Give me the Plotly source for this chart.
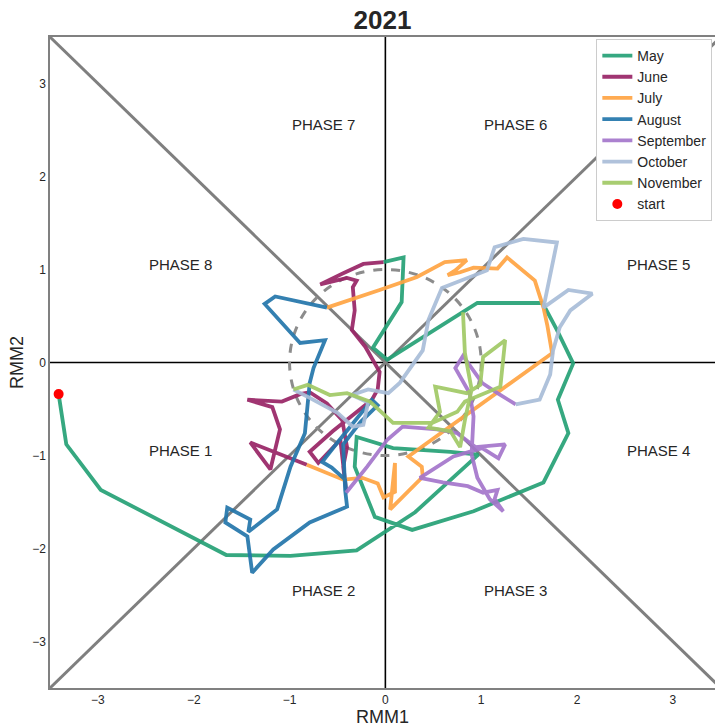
import plotly.graph_objects as go

# Daily RMM index pairs (RMM1, RMM2), one list per month of 2021
may_rmm1 = [-3.41, -3.33, -2.97, -1.66, -0.99, -0.30, 0.31, 0.97, 0.68, 0.08, -0.30, -0.32,
            -0.11, 0.28, 0.92, 1.65, 1.91, 1.80, 1.96, 1.79, 1.64, 0.96, 0.02, -0.13, 0.17,
            0.19, -0.02]
may_rmm2 = [-0.34, -0.88, -1.37, -2.07, -2.08, -2.02, -1.61, -0.99, -0.96, -0.92, -0.80, -1.12,
            -1.66, -1.80, -1.60, -1.29, -0.76, -0.40, -0.01, 0.35, 0.64, 0.64, 0.03, 0.16, 0.65,
            1.13, 1.08]

jun_rmm1 = [-0.02, -0.23, -0.44, -0.68, -0.40, -0.30, -0.34, -0.32, -0.35, -0.21, -0.06, -0.08,
            -0.14, -0.30, -0.55, -0.79, -0.70, -0.47, -0.41, -0.44, -0.40, -0.45, -0.61, -0.79,
            -0.89, -1.08, -1.44, -1.18, -1.10, -1.20, -1.41, -0.82]
jun_rmm2 = [1.08, 1.06, 0.96, 0.84, 0.91, 0.88, 0.81, 0.56, 0.35, 0.17, -0.10, -0.29,
            -0.40, -0.53, -0.74, -0.96, -1.08, -0.83, -1.37, -1.12, -0.91, -0.62, -0.44, -0.32,
            -0.34, -0.42, -0.40, -0.48, -0.72, -1.15, -0.86, -1.10]

jul_rmm1 = [-0.82, -0.44, -0.24, -0.08, -0.02, 0.10, 0.10, 0.05, 0.39, 0.38, 0.24, 1.74,
            1.69, 1.65, 1.56, 1.27, 1.17, 0.92, 0.78, 0.65, 0.73, 0.85, 0.62, 0.33, -0.06, -0.61]
jul_rmm2 = [-1.10, -1.26, -1.24, -1.30, -1.45, -1.39, -1.08, -1.58, -1.23, -1.12, -1.01, 0.10,
            0.40, 0.59, 0.88, 1.13, 1.01, 1.02, 0.97, 0.94, 0.99, 1.10, 1.08, 0.92, 0.78, 0.59]

aug_rmm1 = [-0.61, -1.15, -1.26, -1.07, -0.89, -0.63, -0.75, -0.79, -0.81, -0.84, -0.99, -1.13,
            -1.43, -1.41, -1.65, -1.67, -1.44, -1.39, -1.17, -0.79, -0.40, -0.42, -0.44, -0.26,
            -0.08, -0.14, -0.50, -0.66, -0.56, -0.42, -0.41]
aug_rmm2 = [0.59, 0.71, 0.63, 0.42, 0.21, 0.24, -0.06, -0.22, -0.43, -0.76, -1.12, -1.58,
            -1.82, -1.69, -1.56, -1.72, -1.87, -2.26, -2.01, -1.72, -1.55, -1.37, -0.88, -0.64,
            -0.46, -0.40, -0.86, -1.07, -1.13, -1.26, -1.40]

sep_rmm1 = [-0.41, -0.19, 0.02, 0.18, 0.54, 0.75, 0.94, 1.25, 1.18, 1.01, 0.71, 0.36,
            0.60, 0.86, 1.02, 1.17, 1.14, 1.23, 1.09, 0.96, 0.90, 0.92, 0.88, 0.73, 0.81,
            1.01, 1.17, 1.36]
sep_rmm2 = [-1.40, -1.12, -0.83, -0.69, -0.72, -0.76, -0.91, -0.88, -1.03, -0.92, -1.01, -1.24,
            -1.29, -1.33, -1.40, -1.37, -1.47, -1.60, -1.47, -1.24, -0.99, -0.58, -0.33, -0.06,
            0.07, -0.22, -0.33, -0.45]

oct_rmm1 = [1.36, 1.61, 1.72, 1.75, 1.82, 1.93, 2.16, 1.91, 1.65, 1.79, 1.44, 1.14, 1.06,
            0.59, 0.45, 0.39, 0.15, 0.03, -0.18, -0.35, -0.18, -0.23, -0.34, -0.50, -0.79, -0.96]
oct_rmm2 = [-0.45, -0.40, -0.13, 0.13, 0.38, 0.56, 0.74, 0.78, 0.59, 1.29, 1.33, 1.24, 0.99,
            0.80, 0.46, 0.13, -0.22, -0.33, -0.29, -0.35, -0.43, -0.67, -0.69, -0.54, -0.38, -0.29]

nov_rmm1 = [-0.96, -0.81, -0.58, -0.40, -0.16, 0.08, 0.49, 0.75, 0.83, 1.20, 1.25, 1.02,
            0.99, 0.85, 0.52, 0.57, 0.45, 0.68, 0.78, 0.83, 0.90, 0.83, 0.81]
nov_rmm2 = [-0.29, -0.24, -0.35, -0.33, -0.42, -0.65, -0.65, -0.53, -0.42, -0.26, 0.24, 0.06,
            -0.24, -0.33, -0.26, -0.53, -0.70, -0.74, -0.91, -0.62, -0.29, 0.10, 0.54]

months = ["May", "June", "July", "August", "September", "October", "November"]
rmm1_series = [may_rmm1, jun_rmm1, jul_rmm1, aug_rmm1, sep_rmm1, oct_rmm1, nov_rmm1]
rmm2_series = [may_rmm2, jun_rmm2, jul_rmm2, aug_rmm2, sep_rmm2, oct_rmm2, nov_rmm2]
month_colors = ["#25a176", "#982466", "#ffa443", "#2376ab", "#a476cb", "#a9bdd8", "#a1c965"]

phase_labels = ["PHASE 1", "PHASE 2", "PHASE 3", "PHASE 4",
                "PHASE 5", "PHASE 6", "PHASE 7", "PHASE 8"]
phase_x = [-2.14, -0.65, 1.36, 2.85, 2.85, 1.36, -0.65, -2.14]
phase_y = [-0.95, -2.45, -2.45, -0.95, 1.05, 2.56, 2.56, 1.05]

axis_ticks = [-3, -2, -1, 0, 1, 2, 3]
LIM = 3.5

font_family = "Liberation Sans, Arial, sans-serif"

fig = go.Figure()

for name, xs, ys, col in zip(months, rmm1_series, rmm2_series, month_colors):
    fig.add_trace(go.Scatter(
        x=xs, y=ys, mode="lines", name=name,
        line=dict(color=col, width=3.8), opacity=0.92,
    ))

fig.add_trace(go.Scatter(
    x=[may_rmm1[0]], y=[may_rmm2[0]], mode="markers", name="start",
    marker=dict(color="red", size=10),
))

shapes = [
    # phase boundary diagonals
    dict(type="line", xref="x", yref="y", x0=-LIM, y0=-LIM, x1=LIM, y1=LIM,
         line=dict(color="#7f7f7f", width=3), layer="below"),
    dict(type="line", xref="x", yref="y", x0=-LIM, y0=LIM, x1=LIM, y1=-LIM,
         line=dict(color="#7f7f7f", width=3), layer="below"),
    # unit-amplitude circle
    dict(type="circle", xref="x", yref="y", x0=-1, y0=-1, x1=1, y1=1,
         line=dict(color="#8c8c8c", width=3, dash="dash"), layer="below"),
    # zero axes
    dict(type="line", xref="x", yref="paper", x0=0, x1=0, y0=0, y1=1,
         line=dict(color="black", width=1.6), layer="below"),
    dict(type="line", xref="paper", yref="y", x0=0, x1=1, y0=0, y1=0,
         line=dict(color="black", width=1.6), layer="below"),
]

annotations = [
    dict(x=px, y=py, xref="x", yref="y", text=t, showarrow=False,
         font=dict(family=font_family, size=15, color="#262626"))
    for t, px, py in zip(phase_labels, phase_x, phase_y)
]

fig.update_layout(
    width=715, height=727,
    margin=dict(l=50, r=0, t=37, b=39),
    plot_bgcolor="white", paper_bgcolor="white",
    font=dict(family=font_family, color="#262626"),
    title=dict(text="<b>2021</b>", x=0.5, xref="paper", xanchor="center",
               y=0.972, yanchor="middle", font=dict(size=26, color="#262626")),
    shapes=shapes,
    annotations=annotations,
    showlegend=True,
    legend=dict(x=0.996, y=0.997, xanchor="right", yanchor="top",
                bgcolor="white", bordercolor="#cccccc", borderwidth=1,
                font=dict(size=14, color="#262626"), tracegroupgap=0,
                itemwidth=30),
)

fig.update_xaxes(
    range=[-LIM, 3.44], tickvals=axis_ticks, showgrid=False, zeroline=False,
    showline=True, linecolor="#808080", linewidth=1.5, mirror=True,
    ticks="", tickfont=dict(size=12, color="#262626"),
    title=dict(text="RMM1", font=dict(size=18, color="#262626"), standoff=2),
)
fig.update_yaxes(
    range=[-LIM, LIM], tickvals=axis_ticks, showgrid=False, zeroline=False,
    showline=True, linecolor="#808080", linewidth=1.5, mirror=False,
    ticks="", tickfont=dict(size=12, color="#262626"),
    title=dict(text="RMM2", font=dict(size=18, color="#262626"), standoff=4),
)

fig.write_html("out.html")
